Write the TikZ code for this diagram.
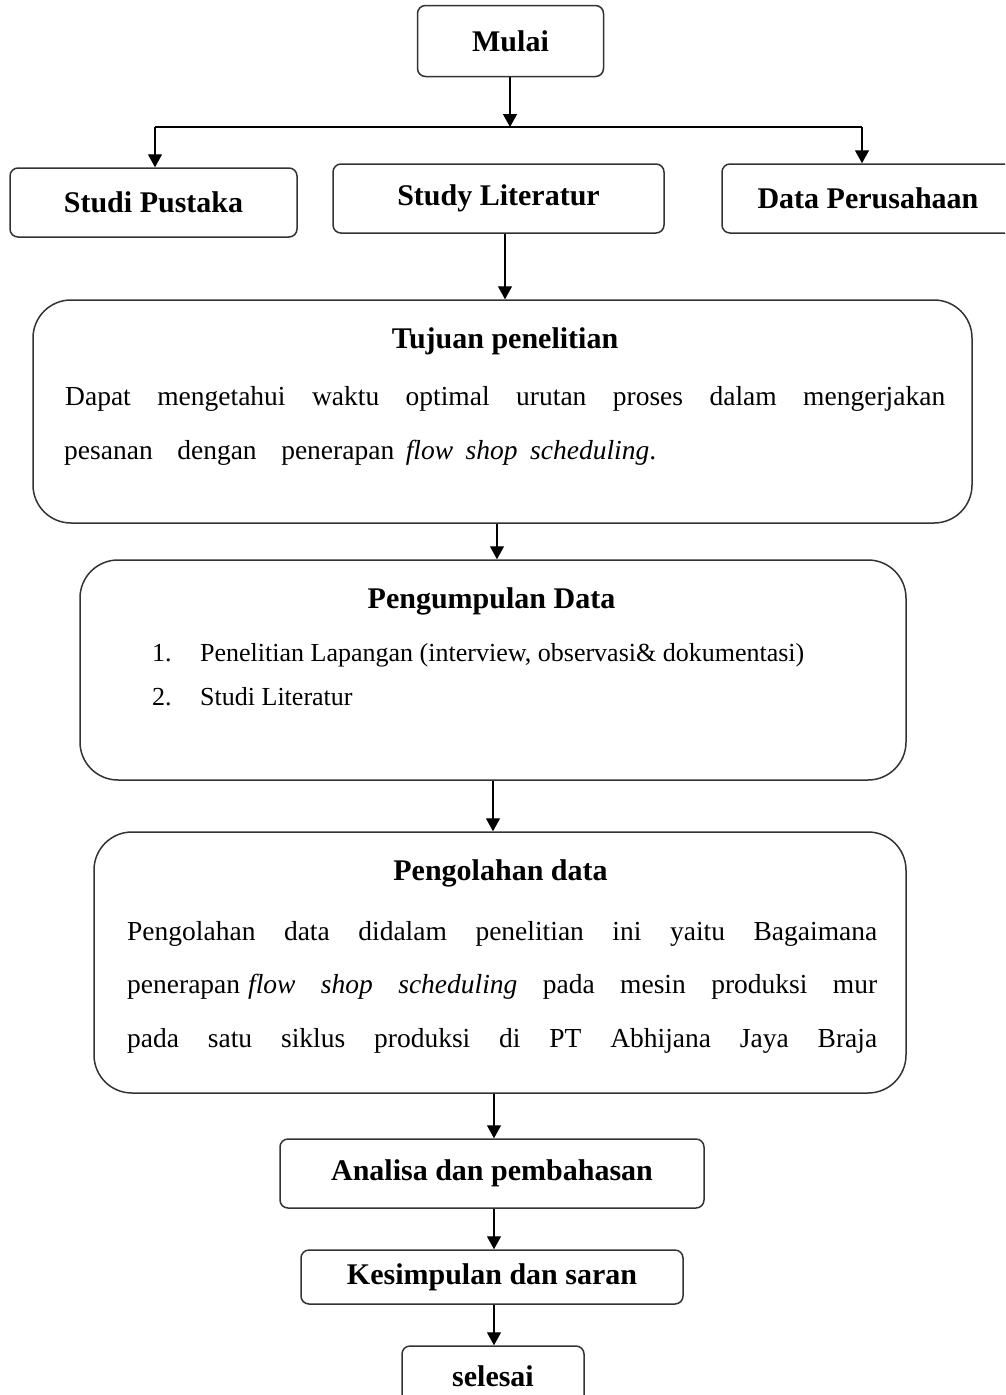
\documentclass[tikz,border=0pt]{standalone}
\usepackage{fontspec}
\setmainfont{Liberation Serif}
\usetikzlibrary{arrows.meta}
\begin{document}
\begin{tikzpicture}[x=1pt,y=-1pt,
  box/.style={draw=black!80, line width=1.5pt, rounded corners=8pt, inner sep=0pt, font=\bfseries\fontsize{30}{34}\selectfont},
  bigbox/.style={draw=black!80, line width=1.5pt, rounded corners=38pt, inner sep=0pt},
  arr/.style={draw=black, line width=1.4pt, -{Triangle[length=13pt,width=14pt]}},
  conn/.style={draw=black, line width=1.4pt},
  ttl/.style={font=\bfseries\fontsize{30}{34}\selectfont, inner sep=0pt, anchor=base},
  body/.style={font=\fontsize{27.5}{30}\selectfont, inner sep=0pt, anchor=base west},
  lst/.style={font=\fontsize{26}{30}\selectfont, inner sep=0pt, anchor=base west}]
\useasboundingbox (0,0) rectangle (1005,1395);
\clip (0,0) rectangle (1005,1395);

% top row
\node[box, minimum width=186pt, minimum height=71pt] (mulai) at (510.5,41) {Mulai};
\node[box, minimum width=287pt, minimum height=69pt] (sp) at (153.5,202.5) {Studi Pustaka};
\node[box, minimum width=331pt, minimum height=69pt] (sl) at (498.5,198.5) {Study Literatur};
\node[box, minimum width=292pt, minimum height=69pt] (dp) at (868,198.5) {Data Perusahaan};

\coordinate (br) at (510,127);
\coordinate (brL) at (155,127);
\coordinate (brR) at (862,127);
\draw[arr] (mulai.south -| br) -- (br);
\draw[conn] (brL) -- (brR);
\draw[arr] (brL) -- (sp.north -| brL);
\draw[arr] (brR) -- (dp.north -| brR);

% Tujuan penelitian
\node[bigbox, minimum width=939pt, minimum height=223pt] (tuj) at (502.5,411.5) {};
\coordinate (a1) at (505,0);
\draw[arr] (sl.south -| a1) -- (tuj.north -| a1);
\node[ttl] (tujT) at (505,348) {Tujuan penelitian};
\node[body] (tuj1) at (65,405) {\makebox[880pt][s]{Dapat mengetahui waktu optimal urutan proses dalam mengerjakan}};
\node[body] (tuj2) at (64,459) {\makebox[592pt][s]{pesanan\hspace{18pt plus 1pt}dengan\hspace{18pt plus 1pt}penerapan\hspace{5pt plus 1pt}\textit{flow\hspace{6pt plus 1pt}shop\hspace{6pt plus 1pt}scheduling}.}};

% Pengumpulan Data
\node[bigbox, minimum width=826pt, minimum height=220pt] (pd) at (493,670) {};
\coordinate (a2) at (497,0);
\draw[arr] (tuj.south -| a2) -- (pd.north -| a2);
\node[ttl] (pdT) at (491.5,608) {Pengumpulan Data};
\node[lst] (n1) at (152,661) {1.};
\node[lst] (l1) at (200,661) {Penelitian Lapangan (interview, observasi\& dokumentasi)};
\node[lst] (n2) at (152,705) {2.};
\node[lst] (l2) at (200,705) {Studi Literatur};

% Pengolahan data
\node[bigbox, minimum width=812pt, minimum height=261pt] (po) at (500,962.5) {};
\coordinate (a3) at (493,0);
\draw[arr] (pd.south -| a3) -- (po.north -| a3);
\node[ttl] (poT) at (500.5,880) {Pengolahan data};
\node[body] (po1) at (127,940) {\makebox[750pt][s]{Pengolahan data didalam penelitian ini yaitu Bagaimana}};
\node[body] (po2) at (127,993) {\makebox[750pt][s]{penerapan\hspace{8pt}\textit{flow shop scheduling} pada mesin produksi mur}};
\node[body] (po3) at (127,1047) {\makebox[750pt][s]{pada satu siklus produksi di PT Abhijana Jaya Braja}};

% bottom chain
\node[box, minimum width=424pt, minimum height=69pt] (an) at (492,1173.5) {Analisa dan pembahasan};
\node[box, minimum width=382pt, minimum height=54pt] (ks) at (492,1277) {Kesimpulan dan saran};
\node[box, minimum width=182pt, minimum height=60pt] (se) at (493,1376) {selesai};
\coordinate (a4) at (494,0);
\draw[arr] (po.south -| a4) -- (an.north -| a4);
\draw[arr] (an.south -| a4) -- (ks.north -| a4);
\draw[arr] (ks.south -| a4) -- (se.north -| a4);
\end{tikzpicture}
\end{document}
